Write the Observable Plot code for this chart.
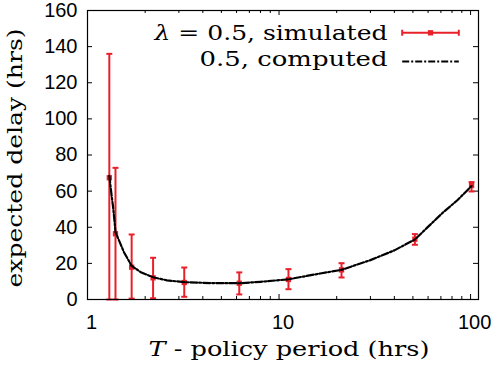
<!DOCTYPE html>
<html>
<head>
<meta charset="utf-8">
<script src="https://cdn.jsdelivr.net/npm/d3@7"></script>
<script src="https://cdn.jsdelivr.net/npm/@observablehq/plot@0.6"></script>
<style>
  html, body { margin: 0; padding: 0; background: #fff; }
</style>
</head>
<body>
<div id="chart"></div>
<script>
// ---- data ----
const T_sim = [1.3, 1.4, 1.7, 2.2, 3.2, 6.2, 11.2, 21.2, 51.2, 101.2];
const delay_sim = [67.4, 36.4, 17.9, 12.0, 9.4, 9.0, 11.1, 16.4, 33.4, 63.1];
const delay_lo = [0, 0, 0.5, 0.7, 1.5, 2.8, 5.7, 12.2, 30.3, 59.8];
const delay_hi = [136, 72.9, 36, 23.1, 17.7, 15.0, 16.8, 20.1, 36.2, 65.0];

const T_comp = [1.3, 1.33, 1.36, 1.38, 1.4, 1.46, 1.55, 1.7, 1.9, 2.2, 2.6, 3.2, 4.4, 6.2, 8, 10, 11.2, 13.4, 16.4, 21.2, 25.5, 30, 40, 51.2, 59, 72, 85, 101.2];
const delay_comp = [68.4, 59.4, 51.1, 44.7, 37.3, 32.7, 26.2, 18.6, 15.1, 12.3, 10.6, 9.6, 9.1, 9.0, 9.8, 10.7, 11.2, 12.7, 14.4, 16.4, 19.3, 21.8, 27.2, 33.2, 39.5, 48.3, 54.8, 62.8];

const xTicksMajor = [1, 10, 100];
const xTicksMinor = [2, 3, 4, 5, 6, 7, 8, 9, 20, 30, 40, 50, 60, 70, 80, 90];
const yTicks = [0, 20, 40, 60, 80, 100, 120, 140, 160];

const legendSim = "λ = 0.5, simulated";
const legendComp = "0.5, computed";
const xLabel = "T - policy period (hrs)";
const yLabel = "expected delay (hrs)";

// ---- tables ----
const sim = T_sim.map((t, i) => ({T: t, v: delay_sim[i], lo: delay_lo[i], hi: delay_hi[i]}));
const comp = T_comp.map((t, i) => ({T: t, v: delay_comp[i]}));

// ---- layout / style ----
const W = 492, H = 366;
const mL = 87, mR = 14, mT = 10, mB = 67;
const FW = W - mL - mR, FH = H - mT - mB;
const RED = "#e8202a";
const SERIF = "DejaVu Serif";
const DASH = "7,2,2,2";

const hline = {draw(ctx, size) { const r = Math.sqrt(size / Math.PI); ctx.moveTo(-r, 0); ctx.lineTo(r, 0); }};
const errKey = {draw(ctx, size) {
  const r = Math.sqrt(size / Math.PI);
  ctx.moveTo(-r, 0); ctx.lineTo(r, 0);
  ctx.moveTo(-r, -3); ctx.lineTo(-r, 3);
  ctx.moveTo(r, -3); ctx.lineTo(r, 3);
}};

const chart = Plot.plot({
  width: W, height: H,
  marginLeft: mL, marginRight: mR, marginTop: mT, marginBottom: mB,
  x: {type: "log", domain: [1, 110]},
  y: {domain: [0, 160]},
  style: {fontFamily: "Liberation Sans, Arial, sans-serif", fontSize: "20px", background: "#fff", color: "#000", overflow: "visible"},
  marks: [
    // axes labels (outside)
    Plot.axisX(xTicksMajor, {tickSize: 0, tickPadding: 15, dx: 4, fontSize: 20, tickFormat: d => String(d), label: null}),
    Plot.axisY(yTicks, {tickSize: 0, tickPadding: 10, fontSize: 20, label: null}),
    // inward ticks
    Plot.tickY(yTicks, {y: d => d, insetRight: FW - 5, stroke: "#000"}),
    Plot.tickY(yTicks, {y: d => d, insetLeft: FW - 5, stroke: "#000"}),
    Plot.tickX(xTicksMajor, {x: d => d, insetTop: FH - 5, stroke: "#000"}),
    Plot.tickX(xTicksMajor, {x: d => d, insetBottom: FH - 5, stroke: "#000"}),
    Plot.tickX(xTicksMinor, {x: d => d, insetTop: FH - 3, stroke: "#000"}),
    Plot.tickX(xTicksMinor, {x: d => d, insetBottom: FH - 3, stroke: "#000"}),
    // simulated with error bars
    Plot.ruleX(sim, {x: "T", y1: "lo", y2: "hi", stroke: RED, strokeWidth: 2}),
    Plot.dot(sim, {x: "T", y: "hi", symbol: hline, r: 3, stroke: RED, strokeWidth: 2, fill: "none"}),
    Plot.dot(sim, {x: "T", y: "lo", symbol: hline, r: 3, stroke: RED, strokeWidth: 2, fill: "none"}),
    Plot.dot(sim, {x: "T", y: "v", symbol: "square", r: 3, fill: RED, stroke: "none"}),
    // computed
    Plot.line(comp, {x: "T", y: "v", stroke: "#000", strokeWidth: 2.2, strokeDasharray: DASH, curve: "linear"}),
    // frame
    Plot.frame({stroke: "#000", strokeWidth: 1.2}),
    // legend
    Plot.text([legendSim], {frameAnchor: "top-right", dx: -91, dy: 29, textAnchor: "end", lineAnchor: "bottom", fontFamily: SERIF, fontSize: 21}),
    Plot.text([legendComp], {frameAnchor: "top-right", dx: -91, dy: 55, textAnchor: "end", lineAnchor: "bottom", fontFamily: SERIF, fontSize: 21}),
    Plot.dot([0], {frameAnchor: "top-right", dx: -48, dy: 22.3, r: 28.3, symbol: errKey, stroke: RED, strokeWidth: 2, fill: "none"}),
    Plot.dot([0], {frameAnchor: "top-right", dx: -48, dy: 22.3, r: 3, symbol: "square", fill: RED, stroke: "none"}),
    Plot.dot([0], {frameAnchor: "top-right", dx: -48, dy: 51, r: 28.3, symbol: hline, stroke: "#000", strokeWidth: 2, strokeDasharray: DASH, fill: "none"}),
    // axis titles
    Plot.text([xLabel], {frameAnchor: "bottom", dx: 6, dy: 56.5, textAnchor: "middle", lineAnchor: "bottom", fontFamily: SERIF, fontSize: 21}),
    Plot.text([yLabel], {frameAnchor: "left", dx: -72, dy: 3, rotate: -90, textAnchor: "middle", lineAnchor: "middle", fontFamily: SERIF, fontSize: 21})
  ]
});

// Italic symbols and stretched text to match the reference's wide serif face
function styleText(svg, str, italicPrefix, length) {
  const el = Array.from(svg.querySelectorAll("text")).find(t => t.textContent === str);
  if (!el) return;
  if (italicPrefix) {
    el.textContent = "";
    const ns = "http://www.w3.org/2000/svg";
    const a = document.createElementNS(ns, "tspan");
    a.setAttribute("font-style", "italic");
    a.textContent = italicPrefix;
    const b = document.createElementNS(ns, "tspan");
    b.textContent = str.slice(italicPrefix.length);
    el.appendChild(a); el.appendChild(b);
  }
  if (length) {
    el.setAttribute("textLength", length);
    el.setAttribute("lengthAdjust", "spacingAndGlyphs");
  }
}
styleText(chart, legendSim, "λ", 233);
styleText(chart, legendComp, null, 188);
styleText(chart, xLabel, "T", 281);
styleText(chart, yLabel, null, 259);

document.getElementById("chart").appendChild(chart);
</script>
</body>
</html>
